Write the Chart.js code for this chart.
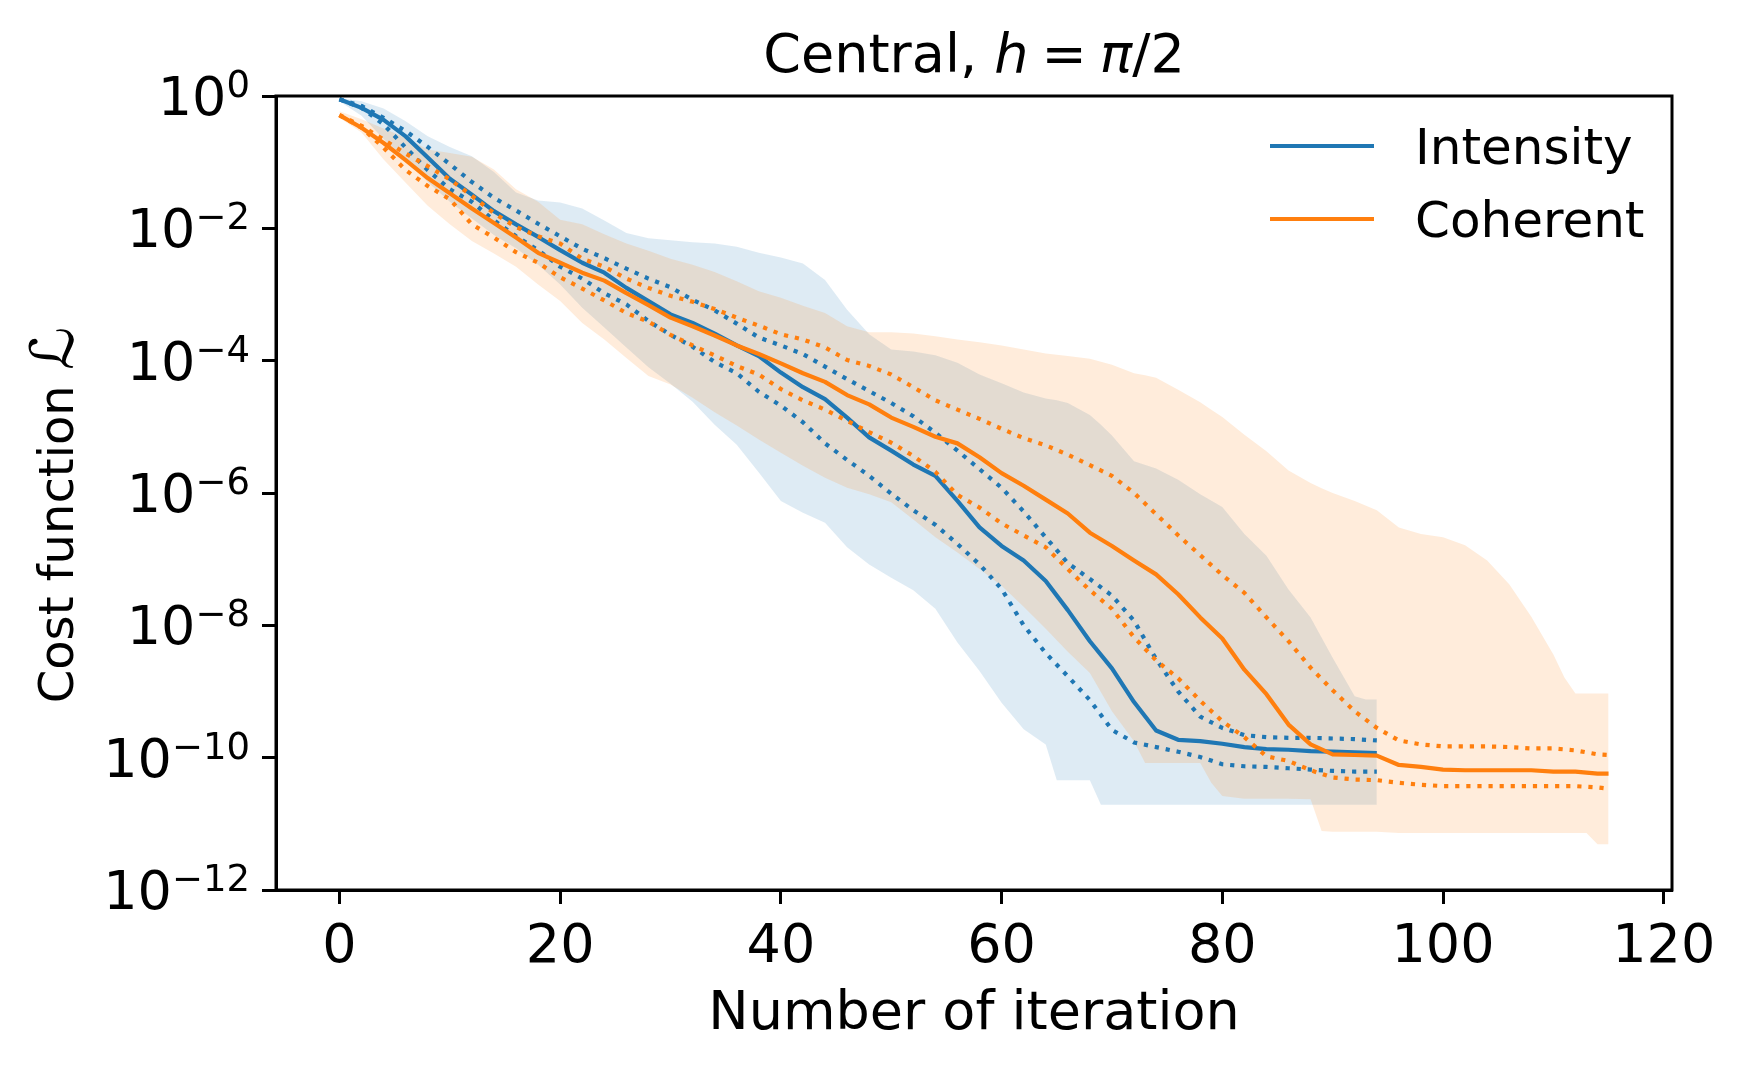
<!DOCTYPE html>
<html>
<head>
<meta charset="utf-8">
<title>Central, h = π/2</title>
<style>
    html, body { margin: 0; padding: 0; background: #fff; }
    #wrap { width: 1745px; height: 1068px; }
</style>
<script src="https://cdn.jsdelivr.net/npm/chart.js@4"></script>
</head>
<body>
<div id="wrap"><canvas id="costChart" width="1745" height="1068"></canvas></div>
<script>
    // all cost values below are stored as log10 exponents
    var xTicks = [0, 20, 40, 60, 80, 100, 120];
    var yTickExp = [0, -2, -4, -6, -8, -10, -12];

    // Intensity: iterations 0..94
    var intX = [0,2,4,6,8,10,12,14,16,18,20,22,24,26,28,30,32,34,36,38,40,42,44,46,48,50,52,54,56,58,60,62,64,66,68,70,72,74,76,78,80,82,84,86,88,90,92,94];
    var intMeanExp = [-0.05,-0.18,-0.36,-0.61,-0.93,-1.25,-1.49,-1.74,-1.94,-2.13,-2.33,-2.52,-2.67,-2.90,-3.10,-3.30,-3.43,-3.59,-3.77,-3.93,-4.18,-4.40,-4.58,-4.86,-5.16,-5.36,-5.57,-5.74,-6.12,-6.52,-6.80,-7.02,-7.33,-7.77,-8.24,-8.65,-9.16,-9.59,-9.73,-9.75,-9.79,-9.84,-9.87,-9.88,-9.90,-9.91,-9.92,-9.93];
    var intHiExp = [-0.05,-0.15,-0.33,-0.53,-0.77,-1.03,-1.30,-1.54,-1.73,-1.93,-2.12,-2.31,-2.45,-2.61,-2.76,-2.89,-3.08,-3.24,-3.44,-3.65,-3.77,-3.90,-4.09,-4.28,-4.46,-4.64,-4.84,-5.09,-5.36,-5.64,-5.92,-6.28,-6.67,-7.06,-7.30,-7.55,-7.93,-8.51,-9.00,-9.38,-9.55,-9.66,-9.69,-9.70,-9.70,-9.71,-9.72,-9.74];
    var intLoExp = [-0.05,-0.18,-0.43,-0.78,-1.12,-1.41,-1.60,-1.88,-2.12,-2.33,-2.58,-2.76,-2.98,-3.15,-3.40,-3.61,-3.79,-4.02,-4.19,-4.47,-4.68,-4.93,-5.25,-5.50,-5.74,-6.01,-6.26,-6.48,-6.77,-7.08,-7.45,-8.00,-8.42,-8.77,-9.13,-9.58,-9.77,-9.84,-9.91,-9.99,-10.10,-10.13,-10.14,-10.16,-10.18,-10.20,-10.21,-10.21];

    var intBandX = [0,2,4,6,8,10,12,14,16,18,20,22,24,26,28,30,32,34,36,38,40,42,44,46,48,50,52,54,56,58,60,62,64,65,66,68,69,70,72,74,76,78,80,82,84,86,88,90,92,93,94];
    var intBandHiExp = [-0.03,-0.08,-0.19,-0.38,-0.61,-0.77,-0.91,-1.15,-1.46,-1.58,-1.61,-1.70,-1.88,-2.07,-2.15,-2.18,-2.21,-2.23,-2.28,-2.37,-2.44,-2.53,-2.78,-3.23,-3.60,-3.83,-3.86,-3.92,-4.03,-4.21,-4.34,-4.48,-4.57,-4.60,-4.64,-4.82,-4.97,-5.13,-5.52,-5.63,-5.80,-6.02,-6.21,-6.62,-6.95,-7.46,-7.88,-8.49,-9.07,-9.12,-9.12];
    var intBandLoExp = [-0.08,-0.30,-0.65,-0.95,-1.30,-1.60,-1.85,-2.10,-2.30,-2.55,-2.85,-3.20,-3.50,-3.80,-4.10,-4.35,-4.62,-4.97,-5.27,-5.69,-6.12,-6.30,-6.45,-6.82,-7.08,-7.28,-7.47,-7.75,-8.26,-8.69,-9.17,-9.57,-9.80,-10.34,-10.34,-10.34,-10.71,-10.71,-10.71,-10.71,-10.71,-10.71,-10.71,-10.71,-10.71,-10.71,-10.71,-10.71,-10.71,-10.71,-10.71];

    // Coherent: iterations 0..115
    var cohX = [0,2,4,6,8,10,12,14,16,18,20,22,24,26,28,30,32,34,36,38,40,42,44,46,48,50,52,54,56,58,60,62,64,66,68,70,72,74,76,78,80,82,84,86,88,90,92,94,96,98,100,102,104,106,108,110,112,114,115];
    var cohMeanExp = [-0.29,-0.48,-0.71,-0.97,-1.24,-1.47,-1.70,-1.92,-2.14,-2.37,-2.52,-2.67,-2.79,-2.98,-3.16,-3.35,-3.48,-3.62,-3.77,-3.90,-4.04,-4.19,-4.32,-4.52,-4.66,-4.86,-5.00,-5.15,-5.25,-5.46,-5.70,-5.89,-6.10,-6.31,-6.60,-6.80,-7.02,-7.23,-7.53,-7.88,-8.20,-8.67,-9.04,-9.50,-9.80,-9.95,-9.96,-9.97,-10.11,-10.14,-10.18,-10.19,-10.19,-10.19,-10.19,-10.21,-10.21,-10.24,-10.24];
    var cohHiExp = [-0.29,-0.45,-0.66,-0.87,-1.06,-1.26,-1.51,-1.77,-1.98,-2.12,-2.23,-2.46,-2.58,-2.76,-2.90,-3.02,-3.11,-3.22,-3.35,-3.47,-3.60,-3.68,-3.80,-3.99,-4.08,-4.21,-4.40,-4.60,-4.74,-4.88,-5.03,-5.17,-5.28,-5.42,-5.58,-5.74,-6.00,-6.32,-6.64,-6.94,-7.24,-7.51,-7.88,-8.24,-8.64,-8.98,-9.30,-9.55,-9.74,-9.80,-9.83,-9.83,-9.83,-9.84,-9.86,-9.86,-9.89,-9.95,-9.96];
    var cohLoExp = [-0.29,-0.48,-0.78,-1.12,-1.36,-1.56,-1.94,-2.14,-2.36,-2.52,-2.74,-2.91,-3.09,-3.28,-3.41,-3.61,-3.77,-3.92,-4.08,-4.21,-4.43,-4.60,-4.74,-4.91,-5.08,-5.24,-5.44,-5.68,-6.03,-6.22,-6.46,-6.64,-6.82,-7.15,-7.47,-7.75,-8.18,-8.53,-8.80,-9.14,-9.45,-9.69,-9.98,-10.05,-10.19,-10.30,-10.33,-10.34,-10.38,-10.41,-10.43,-10.43,-10.43,-10.43,-10.43,-10.43,-10.43,-10.45,-10.47];

    var cohBandX = [0,2,4,6,8,10,12,14,16,18,20,22,24,26,28,30,32,34,36,38,40,42,44,46,48,50,52,54,56,58,60,62,64,66,68,70,72,73,74,76,78,79,80,82,84,86,88,89,90,92,94,96,98,100,102,104,106,108,110,111,112,113,114,115];
    var cohBandHiExp = [-0.23,-0.35,-0.49,-0.63,-0.81,-0.86,-0.92,-1.11,-1.41,-1.60,-1.87,-1.94,-2.09,-2.23,-2.34,-2.46,-2.55,-2.66,-2.80,-2.95,-3.05,-3.17,-3.28,-3.48,-3.57,-3.57,-3.59,-3.63,-3.68,-3.72,-3.77,-3.83,-3.89,-3.93,-3.97,-4.06,-4.19,
        -4.22,-4.26,-4.44,-4.63,-4.74,-4.85,-5.12,-5.37,-5.66,-5.85,-5.93,
        -6.00,-6.12,-6.26,-6.52,-6.62,-6.67,-6.79,-7.02,-7.38,-7.87,-8.44,
        -8.79,-9.03,-9.03,-9.03,-9.03];
    var cohBandLoExp = [-0.33,-0.55,-0.96,-1.31,-1.66,-1.94,-2.19,-2.38,-2.58,-2.85,-3.10,-3.43,-3.68,-3.96,-4.23,-4.36,-4.56,-4.78,-4.98,-5.19,-5.39,-5.59,-5.77,-5.92,-6.02,-6.14,-6.40,-6.67,-6.90,-7.15,-7.40,-7.72,-8.05,-8.40,-8.72,-9.30,-9.75,
        -10.08,-10.08,-10.08,-10.08,-10.38,-10.58,-10.62,-10.62,-10.62,-10.63,-11.11,
        -11.12,-11.12,-11.12,-11.14,-11.14,-11.14,-11.14,-11.14,-11.14,-11.14,-11.14,
        -11.14,-11.14,-11.14,-11.31,-11.31];

    var BLUE = '#1f77b4';
    var ORANGE = '#ff7f0e';
    var FONT = '"DejaVu Sans", "Liberation Sans", sans-serif';

    Chart.defaults.font.family = FONT;
    Chart.defaults.color = '#000';

    function toPoints(xs, exps) {
        return xs.map(function (x, i) { return { x: x, y: Math.pow(10, exps[i]) }; });
    }

    function band(xs, exps, color, fill, order) {
        return {
            data: toPoints(xs, exps),
            borderColor: 'rgba(0,0,0,0)',
            borderWidth: 0,
            backgroundColor: color,
            fill: fill,
            pointRadius: 0,
            order: order
        };
    }

    function curve(label, xs, exps, color, dotted, order) {
        return {
            label: label,
            data: toPoints(xs, exps),
            borderColor: color,
            borderWidth: 4.2,
            borderDash: dotted ? [4.2, 6.9] : [],
            borderCapStyle: 'butt',
            borderJoinStyle: 'round',
            fill: false,
            pointRadius: 0,
            tension: 0,
            order: order
        };
    }

    // frame, superscript tick labels, axis label with script L, title and legend
    var decor = {
        id: 'decor',
        afterDraw: function (chart) {
            var ctx = chart.ctx;
            var a = chart.chartArea;
            var ys = chart.scales.y;
            ctx.save();

            ctx.strokeStyle = '#000';
            ctx.lineWidth = 3;
            ctx.strokeRect(a.left, a.top, a.right - a.left, a.bottom - a.top);

            ctx.fillStyle = '#000';
            ctx.textAlign = 'left';
            ctx.textBaseline = 'alphabetic';
            yTickExp.forEach(function (e) {
                var y = ys.getPixelForValue(Math.pow(10, e));
                var sup = e === 0 ? '0' : '\u2212' + (-e);
                ctx.font = '37px ' + FONT;
                var ws = ctx.measureText(sup).width;
                ctx.font = '54px ' + FONT;
                var wb = ctx.measureText('10').width;
                var xr = a.left - 26;
                ctx.fillText('10', xr - ws - wb, y + 19);
                ctx.font = '37px ' + FONT;
                ctx.fillText(sup, xr - ws, y + 1);
            });

            // y axis label, rotated
            ctx.save();
            ctx.translate(73, (a.top + a.bottom) / 2);
            ctx.rotate(-Math.PI / 2);
            ctx.font = '48px ' + FONT;
            var w1 = ctx.measureText('Cost function ').width;
            ctx.font = '60px ' + FONT;
            var w2 = ctx.measureText('\u2112').width;
            var sx = -(w1 + w2) / 2 - 22;
            ctx.font = '48px ' + FONT;
            ctx.fillText('Cost function ', sx, 0);
            ctx.font = '60px ' + FONT;
            ctx.fillText('\u2112', sx + w1, 0);
            ctx.restore();

            // title "Central, h = π/2"
            var parts = [
                { t: 'Central, ', it: false, gap: 0 },
                { t: 'h', it: true, gap: 13 },
                { t: '=', it: false, gap: 13 },
                { t: '\u03c0', it: true, gap: 0 },
                { t: '/2', it: false, gap: 0 }
            ];
            var total = 0;
            parts.forEach(function (p) {
                ctx.font = (p.it ? 'italic ' : '') + '54px ' + FONT;
                p.w = ctx.measureText(p.t).width;
                total += p.w + p.gap;
            });
            var tx = (a.left + a.right) / 2 - total / 2;
            parts.forEach(function (p) {
                ctx.font = (p.it ? 'italic ' : '') + '54px ' + FONT;
                ctx.fillText(p.t, tx, a.top - 24);
                tx += p.w + p.gap;
            });

            // legend
            var items = [['Intensity', BLUE, a.top + 50], ['Coherent', ORANGE, a.top + 123]];
            items.forEach(function (it) {
                ctx.strokeStyle = it[1];
                ctx.lineWidth = 4.2;
                ctx.lineCap = 'butt';
                ctx.beginPath();
                ctx.moveTo(a.right - 402, it[2]);
                ctx.lineTo(a.right - 298, it[2]);
                ctx.stroke();
                ctx.fillStyle = '#000';
                ctx.font = '50px ' + FONT;
                ctx.fillText(it[0], a.right - 257, it[2] + 18);
            });

            ctx.restore();
        }
    };

    var ctx = document.getElementById('costChart').getContext('2d');
    var costChart = new Chart(ctx, {
        type: 'line',
        data: {
            datasets: [
                band(intBandX, intBandHiExp, 'rgba(31,119,180,0.15)', '+1', 5),
                band(intBandX, intBandLoExp, 'rgba(31,119,180,0.15)', false, 5),
                band(cohBandX, cohBandHiExp, 'rgba(255,127,14,0.15)', '+1', 4),
                band(cohBandX, cohBandLoExp, 'rgba(255,127,14,0.15)', false, 4),
                curve('Intensity upper', intX, intHiExp, BLUE, true, 3),
                curve('Intensity lower', intX, intLoExp, BLUE, true, 3),
                curve('Intensity', intX, intMeanExp, BLUE, false, 2),
                curve('Coherent upper', cohX, cohHiExp, ORANGE, true, 1),
                curve('Coherent lower', cohX, cohLoExp, ORANGE, true, 1),
                curve('Coherent', cohX, cohMeanExp, ORANGE, false, 0)
            ]
        },
        options: {
            responsive: false,
            animation: false,
            devicePixelRatio: 1,
            layout: { padding: { left: 0, right: 73, top: 96, bottom: 0 } },
            plugins: {
                legend: { display: false },
                tooltip: { enabled: false },
                title: { display: false }
            },
            scales: {
                x: {
                    type: 'linear',
                    min: -5.75,
                    max: 120.75,
                    afterBuildTicks: function (s) {
                        s.ticks = xTicks.map(function (v) { return { value: v }; });
                    },
                    afterFit: function (s) { s.height = 178; },
                    ticks: { font: { size: 54 }, color: '#000', padding: 12, maxRotation: 0, autoSkip: false },
                    grid: { drawOnChartArea: false, tickLength: 14, tickWidth: 3, color: '#000' },
                    border: { color: '#000', width: 3 },
                    title: {
                        display: true,
                        text: 'Number of iteration',
                        font: { size: 54 },
                        color: '#000',
                        padding: { top: 0, bottom: 21 }
                    }
                },
                y: {
                    type: 'logarithmic',
                    min: 1e-12,
                    max: 1,
                    afterBuildTicks: function (s) {
                        s.ticks = yTickExp.map(function (e) { return { value: Math.pow(10, e) }; });
                    },
                    afterFit: function (s) { s.width = 276; },
                    ticks: { callback: function () { return ''; }, autoSkip: false },
                    grid: { drawOnChartArea: false, tickLength: 14, tickWidth: 3, color: '#000' },
                    border: { color: '#000', width: 3 }
                }
            }
        },
        plugins: [decor]
    });
</script>
</body>
</html>
